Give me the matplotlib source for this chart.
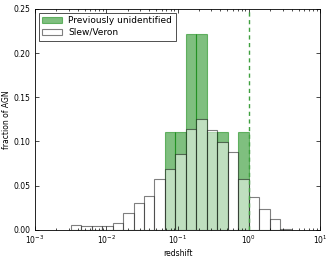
import numpy as np
import matplotlib
matplotlib.use("Agg")
import matplotlib.pyplot as plt

# log10 bin edges (21 bins, width ~0.147 dex, edge at z=1)
log_edges = [-2.499, -2.352, -2.205, -2.058, -1.911, -1.764, -1.617, -1.470,
             -1.323, -1.176, -1.029, -0.882, -0.735, -0.588, -0.441, -0.294,
             -0.147, 0.0, 0.147, 0.294, 0.441, 0.588]

slew_veron = [0.0053, 0.0045, 0.0045, 0.0045, 0.0079, 0.0185, 0.0306, 0.0381,
              0.0578, 0.0690, 0.0855, 0.1137, 0.1258, 0.1130, 0.0995, 0.0880,
              0.0578, 0.0374, 0.0238, 0.0121, 0.0011]

prev_unident = [0, 0, 0, 0, 0, 0, 0, 0,
                0, 1/9, 1/9, 2/9, 2/9, 1/9, 1/9, 0,
                1/9, 0, 0, 0, 0]

edges = 10 ** np.array(log_edges)
centers = np.sqrt(edges[:-1] * edges[1:])

plt.rcParams['font.family'] = ['DejaVu Sans']
fig = plt.figure(figsize=(3.32, 2.58), dpi=100)
ax = fig.add_axes([35/332, 1 - 229.7/258, 285/332, (229.7 - 9)/258])

ax.hist(centers, bins=edges, weights=prev_unident, histtype='bar',
        facecolor='green', edgecolor='green', alpha=0.5, linewidth=0.8,
        label='Previously unidentified')
ax.hist(centers, bins=edges, weights=slew_veron, histtype='bar',
        facecolor='white', edgecolor='black', alpha=0.5, linewidth=0.8,
        label='Slew/Veron')
ax.axvline(1.0, color='#3fa03f', linestyle='--', linewidth=1.0,
           dashes=(3, 2.5))

ax.set_xscale('log')
ax.set_xlim(1e-3, 1e1)
ax.set_ylim(0, 0.25)
ax.set_yticks([0, 0.05, 0.10, 0.15, 0.20, 0.25])
ax.set_yticklabels(['0.00', '0.05', '0.10', '0.15', '0.20', '0.25'])
ax.tick_params(which='both', direction='in', top=True, right=True,
               labelsize=5.5, pad=3)
ax.tick_params(which='major', length=3, width=0.5)
ax.tick_params(which='minor', length=1.5, width=0.5)
for s in ax.spines.values():
    s.set_linewidth(0.6)
ax.set_xlabel('redshift', fontsize=5.5, labelpad=2)
ax.set_ylabel('fraction of AGN', fontsize=5.5, labelpad=2)

leg = ax.legend(loc='upper left', fontsize=6.5, frameon=True, fancybox=False,
                borderpad=0.4, handlelength=2.2, handletextpad=0.7,
                borderaxespad=0.4, labelspacing=0.3)
leg.get_frame().set_edgecolor('black')
leg.get_frame().set_linewidth(0.6)

fig.savefig('out.png', dpi=100)
